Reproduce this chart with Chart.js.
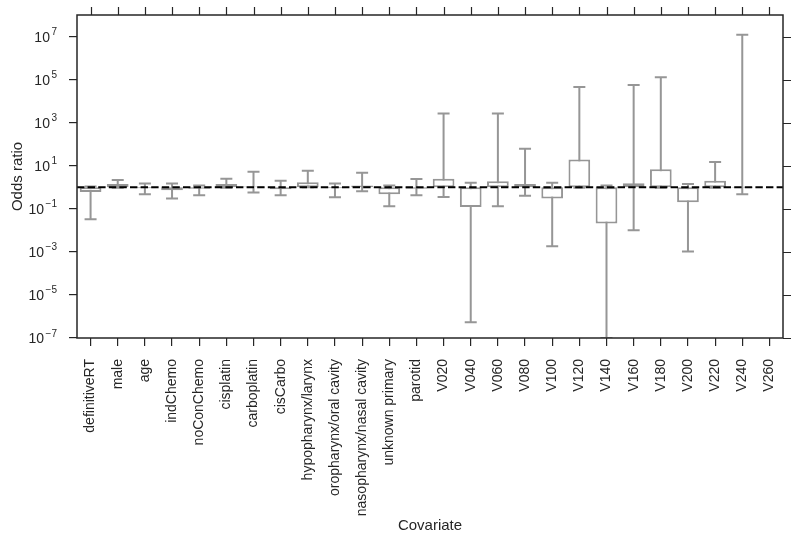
<!DOCTYPE html>
<html>
<head>
<meta charset="utf-8">
<script src="https://cdn.jsdelivr.net/npm/chart.js@4"></script>
<style>
  html, body { margin: 0; padding: 0; background: #fff; }
  #wrap { width: 800px; height: 543px; }
</style>
</head>
<body>
<div id="wrap"><canvas id="c" width="800" height="543"></canvas></div>
<script>
const categories = ['definitiveRT','male','age','indChemo','noConChemo','cisplatin','carboplatin','cisCarbo',
  'hypopharynx/larynx','oropharynx/oral cavity','nasopharynx/nasal cavity','unknown primary','parotid',
  'V020','V040','V060','V080','V100','V120','V140','V160','V180','V200','V220','V240','V260'];
const oddsRatio = [0.6,1.4,0.9,0.72,0.85,1.4,1.1,0.8,1.7,0.9,1.2,0.47,0.85,
  2.5,0.12,1.9,1.4,0.3,19.5,0.021,1.55,6.8,0.2,2.0,0.95,1.0];
const ciLow = [0.033,0.95,0.48,0.3,0.43,0.95,0.57,0.43,1.0,0.34,0.66,0.13,0.43,
  0.35,5.4e-7,0.13,0.4,0.0018,0.95,1e-7,0.01,0.95,0.00105,0.95,0.47,null];
const ciHigh = [1.1,2.2,1.5,1.5,1.2,2.5,5.3,2.0,5.8,1.5,4.7,1.2,2.4,
  2700,1.6,2700,61,1.6,45000,1.2,56000,1.3e5,1.4,15,1.2e7,null];
const yTickExponents = [-7,-5,-3,-1,1,3,5,7];
const referenceValue = 1;

const GRAY = 'rgb(150,150,150)';
const INK = '#262626';
const FONT = "'Liberation Sans', Arial, sans-serif";

const whiskers = {
  id: 'whiskers',
  beforeDatasetsDraw(chart) {
    const {ctx, chartArea} = chart;
    const xs = chart.scales.x, ys = chart.scales.y;
    ctx.save();
    ctx.beginPath();
    ctx.rect(chartArea.left, chartArea.top, chartArea.right - chartArea.left, chartArea.bottom - chartArea.top);
    ctx.clip();
    ctx.strokeStyle = GRAY;
    ctx.lineWidth = 2;
    const half = 6;
    categories.forEach((c, i) => {
      if (ciLow[i] == null || ciHigh[i] == null) return;
      const x = xs.getPixelForValue(i);
      const yl = ys.getPixelForValue(ciLow[i]);
      const yh = ys.getPixelForValue(ciHigh[i]);
      ctx.beginPath();
      ctx.moveTo(x, yl); ctx.lineTo(x, yh);
      ctx.moveTo(x - half, yl); ctx.lineTo(x + half, yl);
      ctx.moveTo(x - half, yh); ctx.lineTo(x + half, yh);
      ctx.stroke();
    });
    ctx.restore();
  }
};

const refLine = {
  id: 'refLine',
  afterDatasetsDraw(chart) {
    const {ctx, chartArea} = chart;
    const y = chart.scales.y.getPixelForValue(referenceValue);
    ctx.save();
    ctx.strokeStyle = '#000';
    ctx.lineWidth = 2;
    ctx.setLineDash([7.4, 3.2]);
    ctx.beginPath();
    ctx.moveTo(chartArea.left, y);
    ctx.lineTo(chartArea.right, y);
    ctx.stroke();
    ctx.restore();
  }
};

const frame = {
  id: 'frame',
  afterDraw(chart) {
    const {ctx, chartArea} = chart;
    const xs = chart.scales.x, ys = chart.scales.y;
    ctx.save();
    ctx.strokeStyle = INK;
    ctx.lineWidth = 1.5;
    ctx.strokeRect(chartArea.left, chartArea.top, chartArea.right - chartArea.left, chartArea.bottom - chartArea.top);
    ctx.lineWidth = 1.2;
    ctx.beginPath();
    categories.forEach((c, i) => {
      const x = Math.round(xs.getPixelForValue(i)) + 0.5;
      ctx.moveTo(x, chartArea.top); ctx.lineTo(x, chartArea.top - 8);
    });
    yTickExponents.forEach(e => {
      const y = Math.round(ys.getPixelForValue(Math.pow(10, e))) + 0.5;
      ctx.moveTo(chartArea.right, y); ctx.lineTo(chartArea.right + 8, y);
    });
    ctx.stroke();
    // y tick labels as 10 with superscript exponent
    ctx.fillStyle = INK;
    ctx.textAlign = 'right';
    ctx.textBaseline = 'alphabetic';
    const rightX = chartArea.left - 20;
    yTickExponents.forEach(e => {
      const y = ys.getPixelForValue(Math.pow(10, e));
      const sup = String(e).replace('-', '\u2212');
      ctx.font = '10px ' + FONT;
      const w = ctx.measureText(sup).width;
      ctx.fillText(sup, rightX, y - 1.5);
      ctx.font = '14px ' + FONT;
      ctx.fillText('10', rightX - w - 1.5, y + 5);
    });
    ctx.restore();
  }
};

new Chart(document.getElementById('c'), {
  type: 'bar',
  data: {
    labels: categories,
    datasets: [{
      data: oddsRatio.map(v => [referenceValue, v]),
      backgroundColor: '#ffffff',
      borderColor: GRAY,
      borderWidth: 2,
      borderSkipped: false,
      categoryPercentage: 1.0,
      barPercentage: 0.8
    }]
  },
  options: {
    responsive: false,
    animation: false,
    layout: { padding: { left: 5, right: 17, top: 15, bottom: 4 } },
    plugins: { legend: { display: false }, tooltip: { enabled: false } },
    scales: {
      x: {
        type: 'category',
        offset: true,
        grid: { offset: false, drawOnChartArea: false, drawTicks: true, tickLength: 8, color: INK, lineWidth: 1.2 },
        border: { display: false },
        ticks: { autoSkip: false, minRotation: 90, maxRotation: 90, padding: 13, color: INK, font: { family: FONT, size: 14 } },
        title: { display: true, text: 'Covariate', color: INK, font: { family: FONT, size: 15 }, padding: { top: 4, bottom: 4 } },
        afterFit(scale) { scale.height = 201; }
      },
      y: {
        type: 'logarithmic',
        min: 1e-7,
        max: 1e8,
        afterBuildTicks(scale) {
          scale.ticks = yTickExponents.map(e => ({ value: Math.pow(10, e) }));
        },
        grid: { drawOnChartArea: false, drawTicks: true, tickLength: 8, color: INK, lineWidth: 1.2 },
        border: { display: false },
        ticks: { display: false },
        title: { display: true, text: 'Odds ratio', color: INK, font: { family: FONT, size: 15 }, padding: { top: 4, bottom: 4 } },
        afterFit(scale) { scale.width = 72; }
      }
    }
  },
  plugins: [whiskers, refLine, frame]
});
</script>
</body>
</html>
